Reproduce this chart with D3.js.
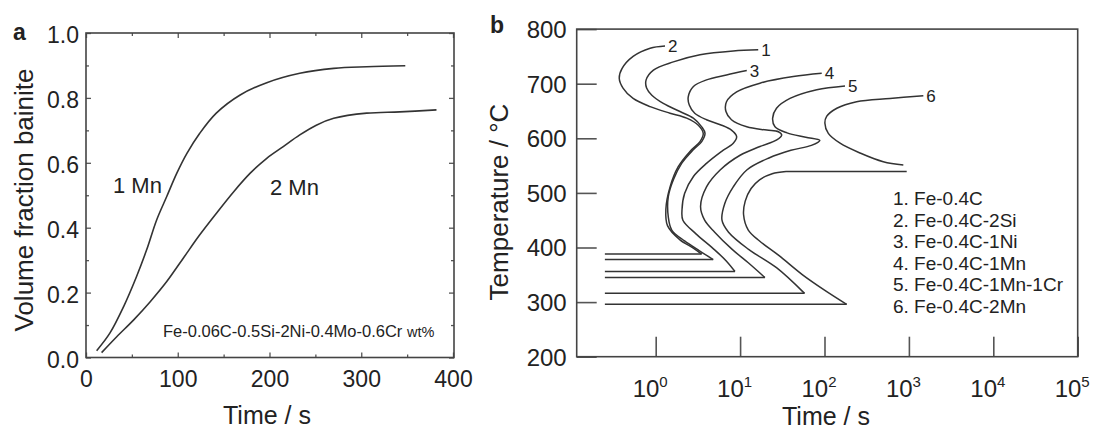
<!DOCTYPE html>
<html>
<head>
<meta charset="utf-8">
<script src="https://cdn.jsdelivr.net/npm/d3@7"></script>
<style>
  body { margin: 0; background: #fff; }
  svg text { font-family: "Liberation Sans", Arial, Helvetica, sans-serif; fill: #222; }
</style>
</head>
<body>
<svg id="chart" width="1094" height="430"></svg>
<script>
// ---------- panel a : volume fraction bainite vs time ----------
const mn1Points = [[11.6, 0.021], [26, 0.075], [41, 0.157], [55, 0.249], [66, 0.331], [77, 0.424],
  [88, 0.496], [99, 0.568], [110, 0.629], [124, 0.691], [142, 0.753], [168, 0.809], [197, 0.847],
  [233, 0.876], [270, 0.891], [306, 0.896], [348, 0.899]];
const mn2Points = [[17, 0.015], [33.5, 0.064], [52, 0.116], [70, 0.172], [88, 0.234], [106, 0.306],
  [124, 0.378], [142, 0.444], [161, 0.511], [179, 0.568], [197, 0.614], [215, 0.65], [233, 0.686],
  [251, 0.716], [270, 0.737], [306, 0.753], [342, 0.757], [382, 0.763]];
const fracTicks = [0, 0.2, 0.4, 0.6, 0.8, 1.0];
const fracMinor = [0.1, 0.3, 0.5, 0.7, 0.9];
const timeTicksA = [0, 100, 200, 300, 400];
const timeMinorA = [50, 150, 250, 350];

// ---------- panel b : C-curves, time (s) vs temperature (°C) ----------
const curve1 = [[16.4, 762], [8.3, 760], [3.35, 753], [1.62, 740], [0.94, 725], [0.77, 707], [0.78, 692],
  [0.9, 679], [1.23, 664], [1.94, 649], [2.79, 637], [3.51, 621], [3.84, 609], [3.51, 594], [2.79, 579],
  [2.03, 554], [1.62, 524], [1.41, 493], [1.41, 456], [1.55, 432], [2.2, 412], [3.3, 394], [4.8, 378]];
const curve2 = [[1.29, 769], [0.86, 765], [0.54, 750], [0.4, 728], [0.37, 710], [0.41, 692], [0.54, 673],
  [0.86, 658], [1.48, 646], [2.33, 637], [3.2, 624], [3.66, 609], [3.35, 594], [2.55, 576], [1.85, 548],
  [1.48, 511], [1.32, 470], [1.38, 440], [1.94, 414], [2.79, 399], [3.5, 388]];
const curve3 = [[12, 724], [6.9, 716], [4.0, 707], [2.8, 695], [2.43, 676], [2.5, 661], [2.9, 646],
  [4.0, 634], [6.05, 624], [7.9, 615], [9.1, 603], [8.3, 591], [6.05, 576], [4.0, 554], [2.8, 530],
  [2.2, 499], [2.05, 469], [2.1, 450], [3.0, 425], [4.8, 398], [6.9, 375], [8.7, 356]];
const curve4 = [[92.7, 719], [42.7, 713], [17.2, 701], [9.1, 685], [6.9, 667], [6.8, 649], [7.9, 634],
  [12, 621], [20.7, 615], [28.4, 612], [31.1, 606], [27.2, 597], [17.2, 585], [10, 569], [5.8, 542],
  [4.0, 511], [3.4, 475], [3.8, 450], [5, 428], [8, 397], [12.5, 372], [19.7, 345]];
const curve5 = [[175, 696], [81, 689], [39, 673], [27, 655], [24.3, 637], [25.9, 621], [36, 610],
  [60, 602], [88, 596], [70, 587], [40, 578], [22, 564], [12, 542], [8.3, 511], [6.6, 481], [6.1, 450],
  [7.3, 428], [12.5, 397], [27, 363], [58, 316]];
const curve6Upper = [[1483, 678], [597, 673], [240, 667], [140, 655], [106, 640], [101, 628], [111, 609],
  [153, 591], [264, 573], [497, 557], [859, 551]];
const curve6Step = [[942, 539], [35, 539]];
const curve6Lower = [[35, 539], [24, 535], [17, 524], [13.5, 508], [11.5, 485], [11, 460], [12.5, 432],
  [17, 412], [29, 385], [55, 350], [100, 322], [183, 296]];
const holdStart = 0.25; // left end of the isothermal lines
const curveNumbers = ["1", "2", "3", "4", "5", "6"];
const legendLabels = ["1. Fe-0.4C", "2. Fe-0.4C-2Si", "3. Fe-0.4C-1Ni", "4. Fe-0.4C-1Mn",
  "5. Fe-0.4C-1Mn-1Cr", "6. Fe-0.4C-2Mn"];
const tempTicks = [200, 300, 400, 500, 600, 700, 800];
const timeTicksB = [1, 10, 100, 1000, 10000, 100000];

const svg = d3.select("#chart");
const ink = "#333";

// ================= panel a =================
const xA = d3.scaleLinear().domain([0, 400]).range([86, 453]);
const yA = d3.scaleLinear().domain([0, 1]).range([357.5, 33]);

const gA = svg.append("g");

const styleAxis = (g, size) => {
  g.select(".domain").remove();
  g.attr("color", "#555").attr("font-size", size).attr("font-family", null);
  g.selectAll(".tick line").attr("stroke-width", 1.3);
  g.selectAll("text").attr("fill", "#222");
};

gA.append("g").attr("transform", `translate(${xA(0)},0)`)
  .call(d3.axisLeft(yA).tickValues(fracTicks).tickSize(-5).tickPadding(7).tickFormat(d3.format(".1f")))
  .call(g => styleAxis(g, 23))
  .call(g => g.selectAll("text").attr("dy", "0.43em"));
gA.append("g").attr("transform", `translate(${xA(0)},0)`)
  .call(d3.axisLeft(yA).tickValues(fracMinor).tickSize(-3).tickFormat(""))
  .call(g => styleAxis(g, 10));
gA.append("g").attr("transform", `translate(${xA(400) + 1},0)`)
  .call(d3.axisRight(yA).tickValues(fracTicks).tickSize(-5).tickFormat(""))
  .call(g => styleAxis(g, 10));
gA.append("g").attr("transform", `translate(${xA(400) + 1},0)`)
  .call(d3.axisRight(yA).tickValues(fracMinor).tickSize(-3).tickFormat(""))
  .call(g => styleAxis(g, 10));

gA.append("g").attr("transform", `translate(0,${yA(0)})`)
  .call(d3.axisBottom(xA).tickValues(timeTicksA).tickSize(-5).tickPadding(13))
  .call(g => styleAxis(g, 23));
gA.append("g").attr("transform", `translate(0,${yA(0)})`)
  .call(d3.axisBottom(xA).tickValues(timeMinorA).tickSize(-3).tickFormat(""))
  .call(g => styleAxis(g, 10));
gA.append("g").attr("transform", `translate(0,${yA(1)})`)
  .call(d3.axisTop(xA).tickValues(timeTicksA).tickSize(-5).tickFormat(""))
  .call(g => styleAxis(g, 10));
gA.append("g").attr("transform", `translate(0,${yA(1)})`)
  .call(d3.axisTop(xA).tickValues(timeMinorA).tickSize(-3).tickFormat(""))
  .call(g => styleAxis(g, 10));

gA.append("rect")
  .attr("x", xA(0)).attr("y", yA(1))
  .attr("width", xA(400) + 1 - xA(0)).attr("height", yA(0) - yA(1))
  .attr("fill", "none").attr("stroke", "#444").attr("stroke-width", 1.6);

const lineA = d3.line().x(d => xA(d[0])).y(d => yA(d[1])).curve(d3.curveCatmullRom.alpha(0.5));
[mn1Points, mn2Points].forEach(pts => {
  gA.append("path").attr("d", lineA(pts))
    .attr("fill", "none").attr("stroke", ink).attr("stroke-width", 1.6);
});

gA.append("text").attr("x", 113).attr("y", 193).attr("font-size", 22).text("1 Mn");
gA.append("text").attr("x", 270).attr("y", 195).attr("font-size", 22).text("2 Mn");
const note = gA.append("text").attr("x", 163).attr("y", 337).attr("font-size", 16.5);
note.append("tspan").text("Fe-0.06C-0.5Si-2Ni-0.4Mo-0.6Cr ");
note.append("tspan").attr("font-size", 14.5).text("wt%");

gA.append("text").attr("x", 13).attr("y", 40).attr("font-size", 23).attr("font-weight", "bold").text("a");
gA.append("text").attr("transform", "translate(33,200) rotate(-90)")
  .attr("text-anchor", "middle").attr("font-size", 26).text("Volume fraction bainite");
gA.append("text").attr("x", 267).attr("y", 424)
  .attr("text-anchor", "middle").attr("font-size", 25).text("Time / s");

// ================= panel b =================
const xB = d3.scaleLog().domain([0.1159, 1e5]).range([576.7, 1077.7]);
const yB = d3.scaleLinear().domain([200, 800]).range([356.7, 29.1]);

const gB = svg.append("g");

gB.append("g").attr("transform", `translate(${xB.range()[0]},0)`)
  .call(d3.axisLeft(yB).tickValues(tempTicks).tickSize(-20).tickPadding(10))
  .call(g => styleAxis(g, 24))
  .call(g => g.selectAll("text").attr("dy", "0.35em"))
  .call(g => g.selectAll(".tick line").attr("stroke-width", 1.6));

gB.append("g").attr("transform", `translate(0,${yB(200)})`)
  .call(d3.axisBottom(xB).tickValues(timeTicksB).tickSize(-20).tickPadding(12).tickFormat(""))
  .call(g => styleAxis(g, 24))
  .call(g => g.selectAll(".tick line").attr("stroke-width", 1.6))
  .call(g => g.selectAll(".tick").append("text")
    .attr("x", -6).attr("y", 40).attr("text-anchor", "middle").attr("fill", "#222")
    .each(function (d) {
      const t = d3.select(this);
      t.append("tspan").text("10");
      t.append("tspan").attr("font-size", 15).attr("dy", -10).text(Math.round(Math.log10(d)));
    }));

gB.append("rect")
  .attr("x", xB.range()[0]).attr("y", yB(800))
  .attr("width", xB.range()[1] - xB.range()[0]).attr("height", yB(200) - yB(800))
  .attr("fill", "none").attr("stroke", "#444").attr("stroke-width", 1.6);

const lineB = d3.line().x(d => xB(d[0])).y(d => yB(d[1])).curve(d3.curveCatmullRom.alpha(0.5));
const straightB = d3.line().x(d => xB(d[0])).y(d => yB(d[1]));

const curves = [curve1, curve2, curve3, curve4, curve5];
curves.forEach(pts => {
  gB.append("path").attr("d", lineB(pts))
    .attr("fill", "none").attr("stroke", ink).attr("stroke-width", 1.5);
  const last = pts[pts.length - 1];
  gB.append("path").attr("d", straightB([last, [holdStart, last[1]]]))
    .attr("fill", "none").attr("stroke", ink).attr("stroke-width", 1.5);
});
[curve6Upper, curve6Lower].forEach(pts => {
  gB.append("path").attr("d", lineB(pts))
    .attr("fill", "none").attr("stroke", ink).attr("stroke-width", 1.5);
});
const last6 = curve6Lower[curve6Lower.length - 1];
[curve6Step, [last6, [holdStart, last6[1]]]].forEach(pts => {
  gB.append("path").attr("d", straightB(pts))
    .attr("fill", "none").attr("stroke", ink).attr("stroke-width", 1.5);
});

// curve numbers at the upper ends
[curve1, curve2, curve3, curve4, curve5, curve6Upper].forEach((pts, i) => {
  gB.append("text").attr("x", xB(pts[0][0]) + 3).attr("y", yB(pts[0][1]) + 6)
    .attr("font-size", 17).text(curveNumbers[i]);
});

// legend
gB.selectAll(".legend").data(legendLabels).enter().append("text")
  .attr("class", "legend")
  .attr("x", 893).attr("y", (d, i) => 205 + i * 21.6)
  .attr("font-size", 19).text(d => d);

gB.append("text").attr("x", 490).attr("y", 33).attr("font-size", 23).attr("font-weight", "bold").text("b");
gB.append("text").attr("transform", "translate(508,202) rotate(-90)")
  .attr("text-anchor", "middle").attr("font-size", 26).text("Temperature / °C");
gB.append("text").attr("x", 826).attr("y", 425)
  .attr("text-anchor", "middle").attr("font-size", 25).text("Time / s");
</script>
</body>
</html>
